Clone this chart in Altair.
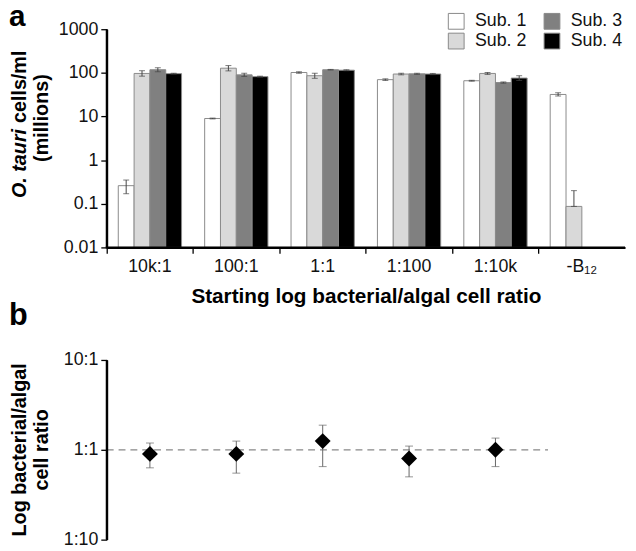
import altair as alt
import pandas as pd

# ---------------- data (panel a) ----------------
categories = ["10k:1", "100:1", "1:1", "1:100", "1:10k", "-B₁₂"]
subcultures = ["Sub. 1", "Sub. 2", "Sub. 3", "Sub. 4"]
sub_colors = ["#ffffff", "#d9d9d9", "#808080", "#000000"]

sub1 = [0.26, 9.0, 102, 70, 66, 32]
sub2 = [97, 128, 86, 94, 97, 0.087]
sub3 = [118, 90, 118, 95, 60, None]
sub4 = [96, 82, 115, 94, 76, None]

sub1_lo = [0.17, 8.8, 98, 67, 64.5, 29.5]
sub1_hi = [0.35, 9.2, 106, 73, 67.5, 35]
sub2_lo = [84, 111, 75, 90, 92, 0.087]
sub2_hi = [112, 147, 98, 98, 102, 0.2]
sub3_lo = [106, 83, 116, 92, 58, None]
sub3_hi = [131, 98, 120, 98, 62, None]
sub4_lo = [94, 80, 112, 91, 67, None]
sub4_hi = [98, 84, 118, 97, 86, None]

# ---------------- data (panel b) ----------------
ratio_cats = ["10k:1", "100:1", "1:1", "1:100", "1:10k"]
ratio_mid = [0.90, 0.90, 1.25, 0.80, 1.00]
ratio_lo = [0.63, 0.55, 0.65, 0.50, 0.65]
ratio_hi = [1.19, 1.25, 1.88, 1.10, 1.35]

# ---------------- tables ----------------
rows = []
for s, vals, los, his in zip(subcultures,
                             [sub1, sub2, sub3, sub4],
                             [sub1_lo, sub2_lo, sub3_lo, sub4_lo],
                             [sub1_hi, sub2_hi, sub3_hi, sub4_hi]):
    for c, v, lo, hi in zip(categories, vals, los, his):
        if v is None:
            continue
        rows.append({"cat": c, "sub": s, "value": v, "lo": lo, "hi": hi})
df_bars = pd.DataFrame(rows)
df_ratio = pd.DataFrame({"cat": ratio_cats, "mid": ratio_mid, "lo": ratio_lo, "hi": ratio_hi})
one = pd.DataFrame({"k": [0]})

W, H = 525, 517
A_BOTTOM, B_TOP = 221, 335
FONT = "Liberation Sans"

x_enc = alt.X(
    "cat:N", sort=categories,
    scale=alt.Scale(domain=categories, paddingInner=0, paddingOuter=0),
    axis=alt.Axis(title="Starting log bacterial/algal cell ratio", orient="bottom",
                  offset=-(H - A_BOTTOM), bandPosition=0, labelAngle=0, labelPadding=4,
                  tickSize=6, titlePadding=11, titleFontSize=21, zindex=1,
                  domain=True, domainColor="#000000", domainWidth=2),
)
xo_enc = alt.XOffset("sub:N", sort=subcultures,
                     scale=alt.Scale(domain=subcultures, paddingInner=0, paddingOuter=0.73))

yA_scale = alt.Scale(type="log", domain=[0.01, 1000], range=[A_BOTTOM, 0])
yA_axis = alt.Axis(title=None, orient="left", values=[0.01, 0.1, 1, 10, 100, 1000],
                   labelExpr="toString(datum.value)", tickSize=6, labelPadding=3, zindex=1,
                   domain=True, domainColor="#000000", domainWidth=2)

yB_scale = alt.Scale(type="log", domain=[0.1, 10], range=[H, B_TOP])
yB_axis = alt.Axis(title=None, orient="left", values=[0.1, 1, 10],
                   labelExpr="datum.value == 10 ? '10:1' : (datum.value == 1 ? '1:1' : '1:10')",
                   tickSize=6, labelPadding=3, zindex=1,
                   domain=True, domainColor="#000000", domainWidth=2)

bars = alt.Chart(df_bars).mark_bar(stroke="#8a8a8a", strokeWidth=1).encode(
    x=x_enc, xOffset=xo_enc,
    y=alt.Y("value:Q", scale=yA_scale, axis=yA_axis),
    y2=alt.datum(0.01),
    fill=alt.Fill("sub:N", sort=subcultures,
                  scale=alt.Scale(domain=subcultures, range=sub_colors),
                  legend=alt.Legend(orient="none", legendX=345, legendY=-17, columns=2,
                                    title=None, symbolType="square", symbolSize=256,
                                    symbolStrokeColor="#888", symbolStrokeWidth=1,
                                    labelFontSize=18, labelFont=FONT, labelColor="#111",
                                    labelOffset=10, columnPadding=15, rowPadding=0,
                                    padding=0)),
)
err_a = alt.Chart(df_bars).mark_rule(color="#444", strokeWidth=1).encode(
    x=x_enc, xOffset=xo_enc,
    y=alt.Y("lo:Q", scale=yA_scale, axis=yA_axis), y2="hi:Q",
)
cap_a = alt.Chart(df_bars).transform_fold(["lo", "hi"], as_=["end", "ev"]).mark_tick(
    color="#444", thickness=1, size=6).encode(
    x=x_enc, xOffset=xo_enc,
    y=alt.Y("ev:Q", scale=yA_scale, axis=yA_axis),
)
# axis lines of panel a (thin filled rectangles)
a_vline = alt.Chart(one).mark_rect(color="#000000", opacity=1).encode(
    x=alt.value(-1), x2=alt.value(1),
    y=alt.YDatum(0.01, type="quantitative", scale=yA_scale, axis=yA_axis),
    y2=alt.datum(1000),
)
a_hline = alt.Chart(one).mark_rule(color="#000000", strokeWidth=2, opacity=1).encode(
    x=alt.value(-1), x2=alt.value(W),
    y=alt.YDatum(0.01, type="quantitative", scale=yA_scale, axis=yA_axis),
)
panel_a = alt.layer(bars, err_a, cap_a, a_vline, a_hline)

dash = alt.Chart(one).mark_rule(strokeDash=[7, 5], color="#888", strokeWidth=1.3).encode(
    x=alt.value(0), x2=alt.value(447),
    y=alt.YDatum(1, type="quantitative", scale=yB_scale, axis=yB_axis),
)
b_vline = alt.Chart(one).mark_rule(color="#000000", strokeWidth=2, opacity=1).encode(
    x=alt.value(0),
    y=alt.YDatum(0.1, type="quantitative", scale=yB_scale, axis=yB_axis),
    y2=alt.datum(10),
)
err_b = alt.Chart(df_ratio).mark_rule(color="#666", strokeWidth=1).encode(
    x=x_enc, y=alt.Y("lo:Q", scale=yB_scale, axis=yB_axis), y2="hi:Q",
)
cap_b = alt.Chart(df_ratio).transform_fold(["lo", "hi"], as_=["end", "ev"]).mark_tick(
    color="#666", thickness=1, size=8).encode(
    x=x_enc, y=alt.Y("ev:Q", scale=yB_scale, axis=yB_axis),
)
pts = alt.Chart(df_ratio).mark_point(shape="diamond", filled=True, size=260,
                                     color="black", opacity=1).encode(
    x=x_enc, y=alt.Y("mid:Q", scale=yB_scale, axis=yB_axis),
)
panel_b = alt.layer(dash, b_vline, err_b, cap_b, pts)

def label(txt, x, y, size=20, weight="bold", style="normal", angle=0, align="center", baseline="middle"):
    return alt.Chart(one).mark_text(text=txt, fontSize=size, fontWeight=weight, fontStyle=style,
                                    font=FONT, angle=angle, align=align, baseline=baseline,
                                    color="black").encode(x=alt.value(x), y=alt.value(y))

texts = alt.layer(
    label("a", -99, -3, size=30, align="left", baseline="alphabetic"),
    label("b", -99, 300, size=31, align="left", baseline="alphabetic"),
    label("O. tauri", -88, 101, style="italic", angle=270, align="right"),
    label("cells/ml", -88, 95, angle=270, align="left"),
    label("(millions)", -65, 90, angle=270),
    label("Log bacterial/algal", -88, 426, angle=270),
    label("cell ratio", -65, 426, angle=270),
)

chart = alt.layer(panel_a, panel_b, texts).resolve_scale(y="independent").properties(
    width=W, height=H,
    autosize=alt.AutoSizeParams(type="none"),
    padding={"left": 100, "top": 18, "right": 3, "bottom": 8},
).configure_view(stroke=None).configure_axis(
    grid=False, labelFont=FONT, labelFontSize=18, labelColor="#111",
    tickColor="#000000", tickWidth=1.3,
    titleFont=FONT, titleFontWeight="bold", titleColor="#000000",
)

chart.save("out.html", embed_options={"renderer": "svg", "actions": False})
